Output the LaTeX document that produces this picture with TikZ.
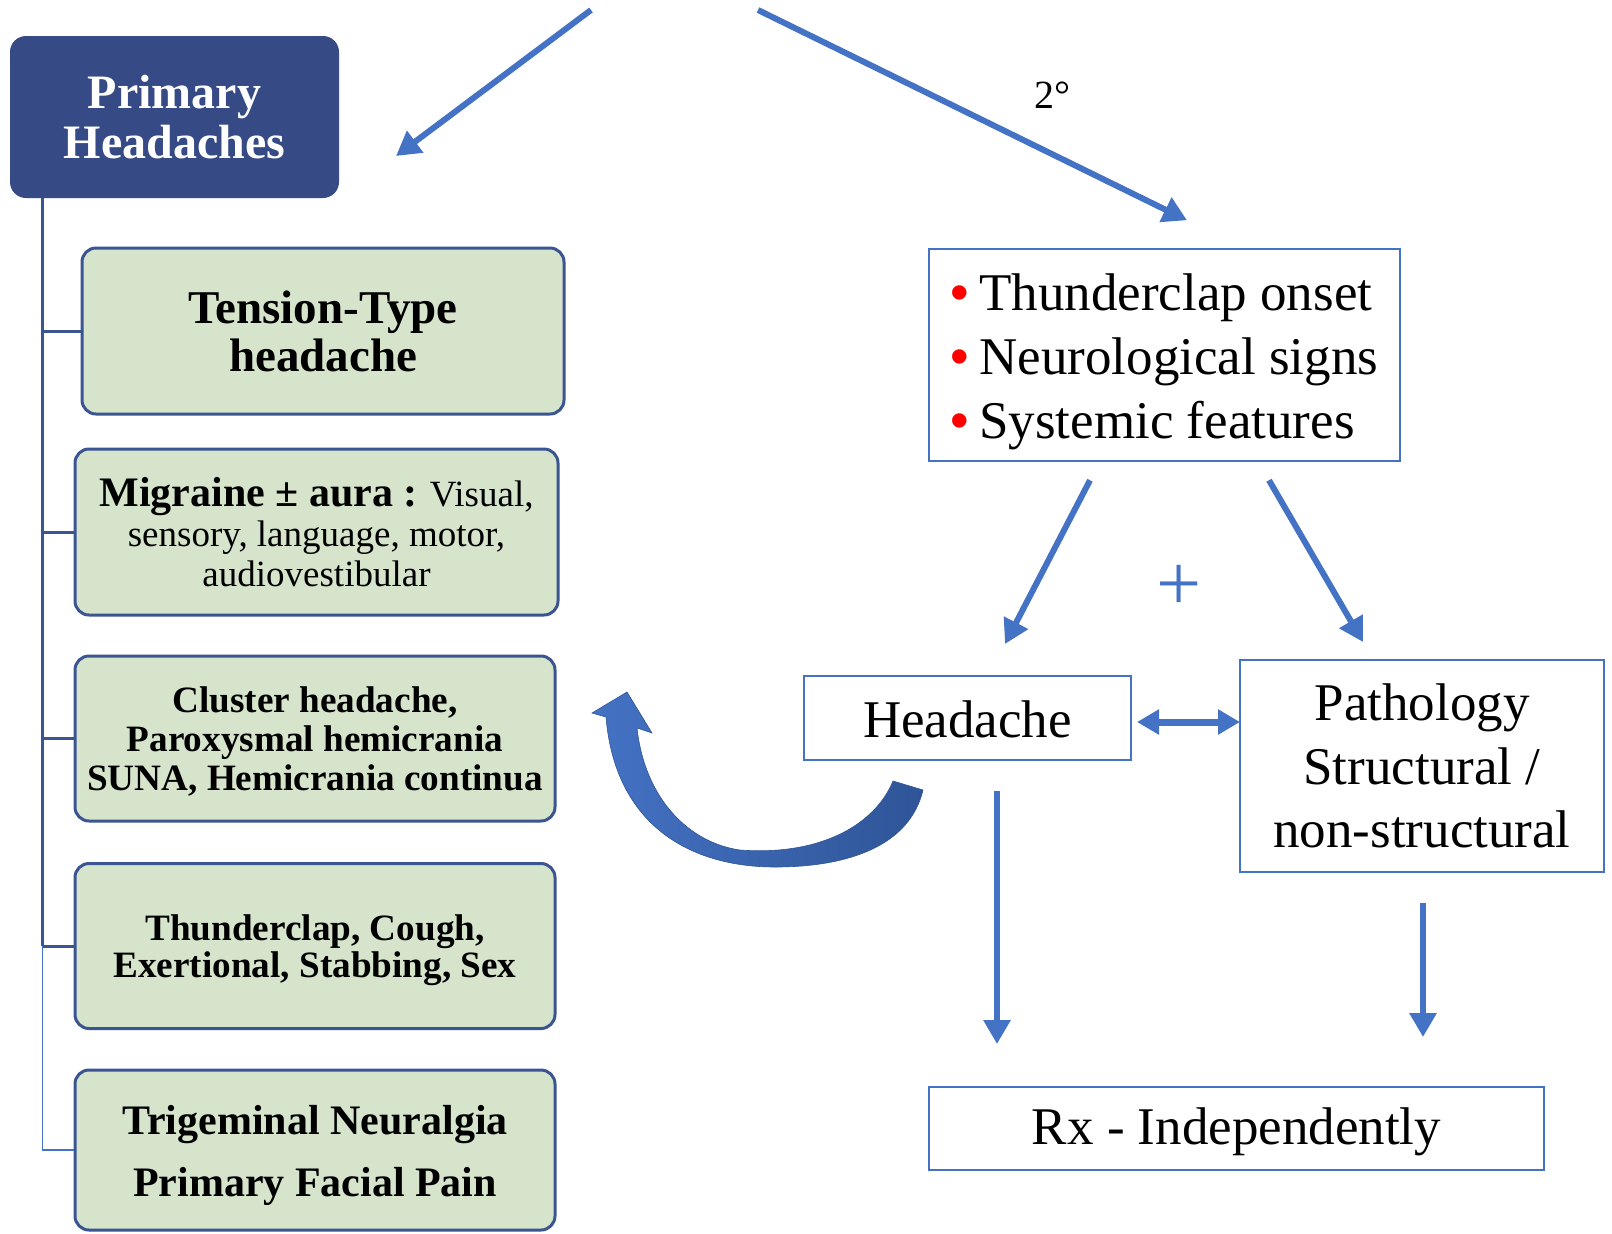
\documentclass[tikz,border=0pt]{standalone}
\usepackage{fontspec}
\setmainfont{Liberation Serif}
\newfontfamily\bulletfont{Liberation Sans}
\usetikzlibrary{arrows.meta,calc}
\definecolor{arrowblue}{RGB}{68,114,196}
\definecolor{navy}{RGB}{54,74,133}
\definecolor{boxborder}{RGB}{59,85,146}
\definecolor{greenfill}{RGB}{214,228,204}
\definecolor{darkarc}{RGB}{47,85,151}
\newcommand{\redbullet}{{\bulletfont\color{red}•}\hspace{5pt}}
\begin{document}
\begin{tikzpicture}[x=0.5pt,y=-0.5pt,
  arr/.style={draw=arrowblue, line width=3pt, -{Triangle[width=13pt,length=12pt]}},
  dblarr/.style={draw=arrowblue, line width=3.5pt, {Triangle[width=12pt,length=11pt]}-{Triangle[width=12pt,length=11pt]}},
  primbox/.style={fill=navy, rounded corners=8pt, text=white, align=center, inner sep=0pt,
    minimum width=164.5pt, minimum height=81pt, font=\fontsize{24}{25}\selectfont\bfseries},
  greenbox/.style={fill=greenfill, draw=boxborder, line width=1.5pt, rounded corners=7pt,
    align=center, inner sep=0pt, minimum width=240pt},
  outbox/.style={draw=arrowblue, line width=1pt, inner sep=0pt, align=center,
    font=\fontsize{26.5}{31.6}\selectfont},
  treeline/.style={draw=boxborder, line width=1.5pt},
  thintree/.style={draw=arrowblue, line width=0.6pt}
]
\useasboundingbox (0,0) rectangle (1612,1233);

% left column
\node[primbox] (prim) at (174.5,117) {Primary\\Headaches};
\node[greenbox, minimum width=241pt, minimum height=83pt, font=\fontsize{23.5}{24}\selectfont\bfseries]
  (g1) at (323,331) {Tension-Type\\headache};
\node[greenbox, minimum width=241.5pt, minimum height=83pt, font=\fontsize{18.5}{19.8}\selectfont]
  (g2) at (316.5,532) {{\fontsize{21}{19.8}\selectfont\bfseries Migraine ± aura :} Visual,\\sensory, language, motor,\\audiovestibular};
\node[greenbox, minimum height=82.5pt, font=\fontsize{18.6}{19.5}\selectfont\bfseries]
  (g3) at (315,738.5) {\rule{0pt}{16pt}Cluster headache,\\Paroxysmal hemicrania\\SUNA, Hemicrania continua};
\node[greenbox, minimum height=82.5pt, font=\fontsize{18.6}{18.5}\selectfont\bfseries]
  (g4) at (315,946) {\rule{0pt}{17pt}Thunderclap, Cough,\\Exertional, Stabbing, Sex};
\node[greenbox, minimum height=80pt, font=\fontsize{21}{31}\selectfont\bfseries]
  (g5) at (315,1150) {\rule{0pt}{20pt}Trigeminal Neuralgia\\Primary Facial Pain};

% tree
\coordinate (trunk) at ($(prim.south west)+(33,0)$);
\draw[treeline] (trunk) -- (trunk |- g4.west);
\foreach \n in {g1,g2,g3,g4} \draw[treeline] (trunk |- \n.west) -- (\n.west);
\draw[thintree] (trunk |- g4.west) -- (trunk |- g5.west) -- (g5.west);

% right column
\node[outbox, minimum width=235.5pt, minimum height=105.75pt, align=left, font=\fontsize{26.5}{32}\selectfont]
  (feat) at (1164.5,355) {\rule{0pt}{25pt}\redbullet Thunderclap onset\\\redbullet Neurological signs\\\redbullet Systemic features};
\node[outbox, minimum width=163.5pt, minimum height=42pt] (head) at (967.5,718) {\rule{0pt}{20pt}Headache};
\node[outbox, minimum width=182pt, minimum height=106pt] (patho) at (1422,766) {Pathology\\Structural /\\non-structural};
\node[outbox, minimum width=307.5pt, minimum height=41.5pt] (rx) at (1236.5,1128.5) {\rule{0pt}{22pt}Rx - Independently};

\node[font=\fontsize{20}{20}\selectfont] (sec) at (1052,95) {2°};
\node[font=\fontsize{40}{40}\selectfont, text=arrowblue] (plus) at (1179,588) {+};

% top arrows
\coordinate (src1) at (591,10);
\coordinate (src2) at (758,10);
\coordinate (end1) at (396,156);
\draw[arr] (src1) -- (end1);
\draw[arr] (src2) -- ($(feat.north)+(22.5,-28)$);

% arrows below features
\draw[arr] ($(feat.south)+(-74.5,18.5)$) -- ($(head.north)+(37.5,-31)$);
\draw[arr] ($(feat.south)+(104.5,18.5)$) -- ($(patho.north)+(-59,-17)$);
\draw[dblarr] ($(head.east)+(5,4)$) -- ($(head.east)+(108,4)$);
\draw[arr] ($(head.south)+(29.5,30)$) -- ($(head.south)+(29.5,283)$);
\draw[arr] ($(patho.south)+(1,30)$) -- ($(patho.south)+(1,164)$);

% curved arrow back to primary headaches
\shade[left color=arrowblue, right color=darkarc, draw=darkarc, line width=0.3pt]
  (923,790) .. controls (910,845) and (850,867) .. (775,867)
  .. controls (690,867) and (615,825) .. (606,717)
  -- (592,713) -- (627,692) -- (652,733) -- (637,728)
  .. controls (645,800) and (690,843) .. (740,850)
  .. controls (820,856) and (875,825) .. (893,781) -- cycle;
\end{tikzpicture}
\end{document}
